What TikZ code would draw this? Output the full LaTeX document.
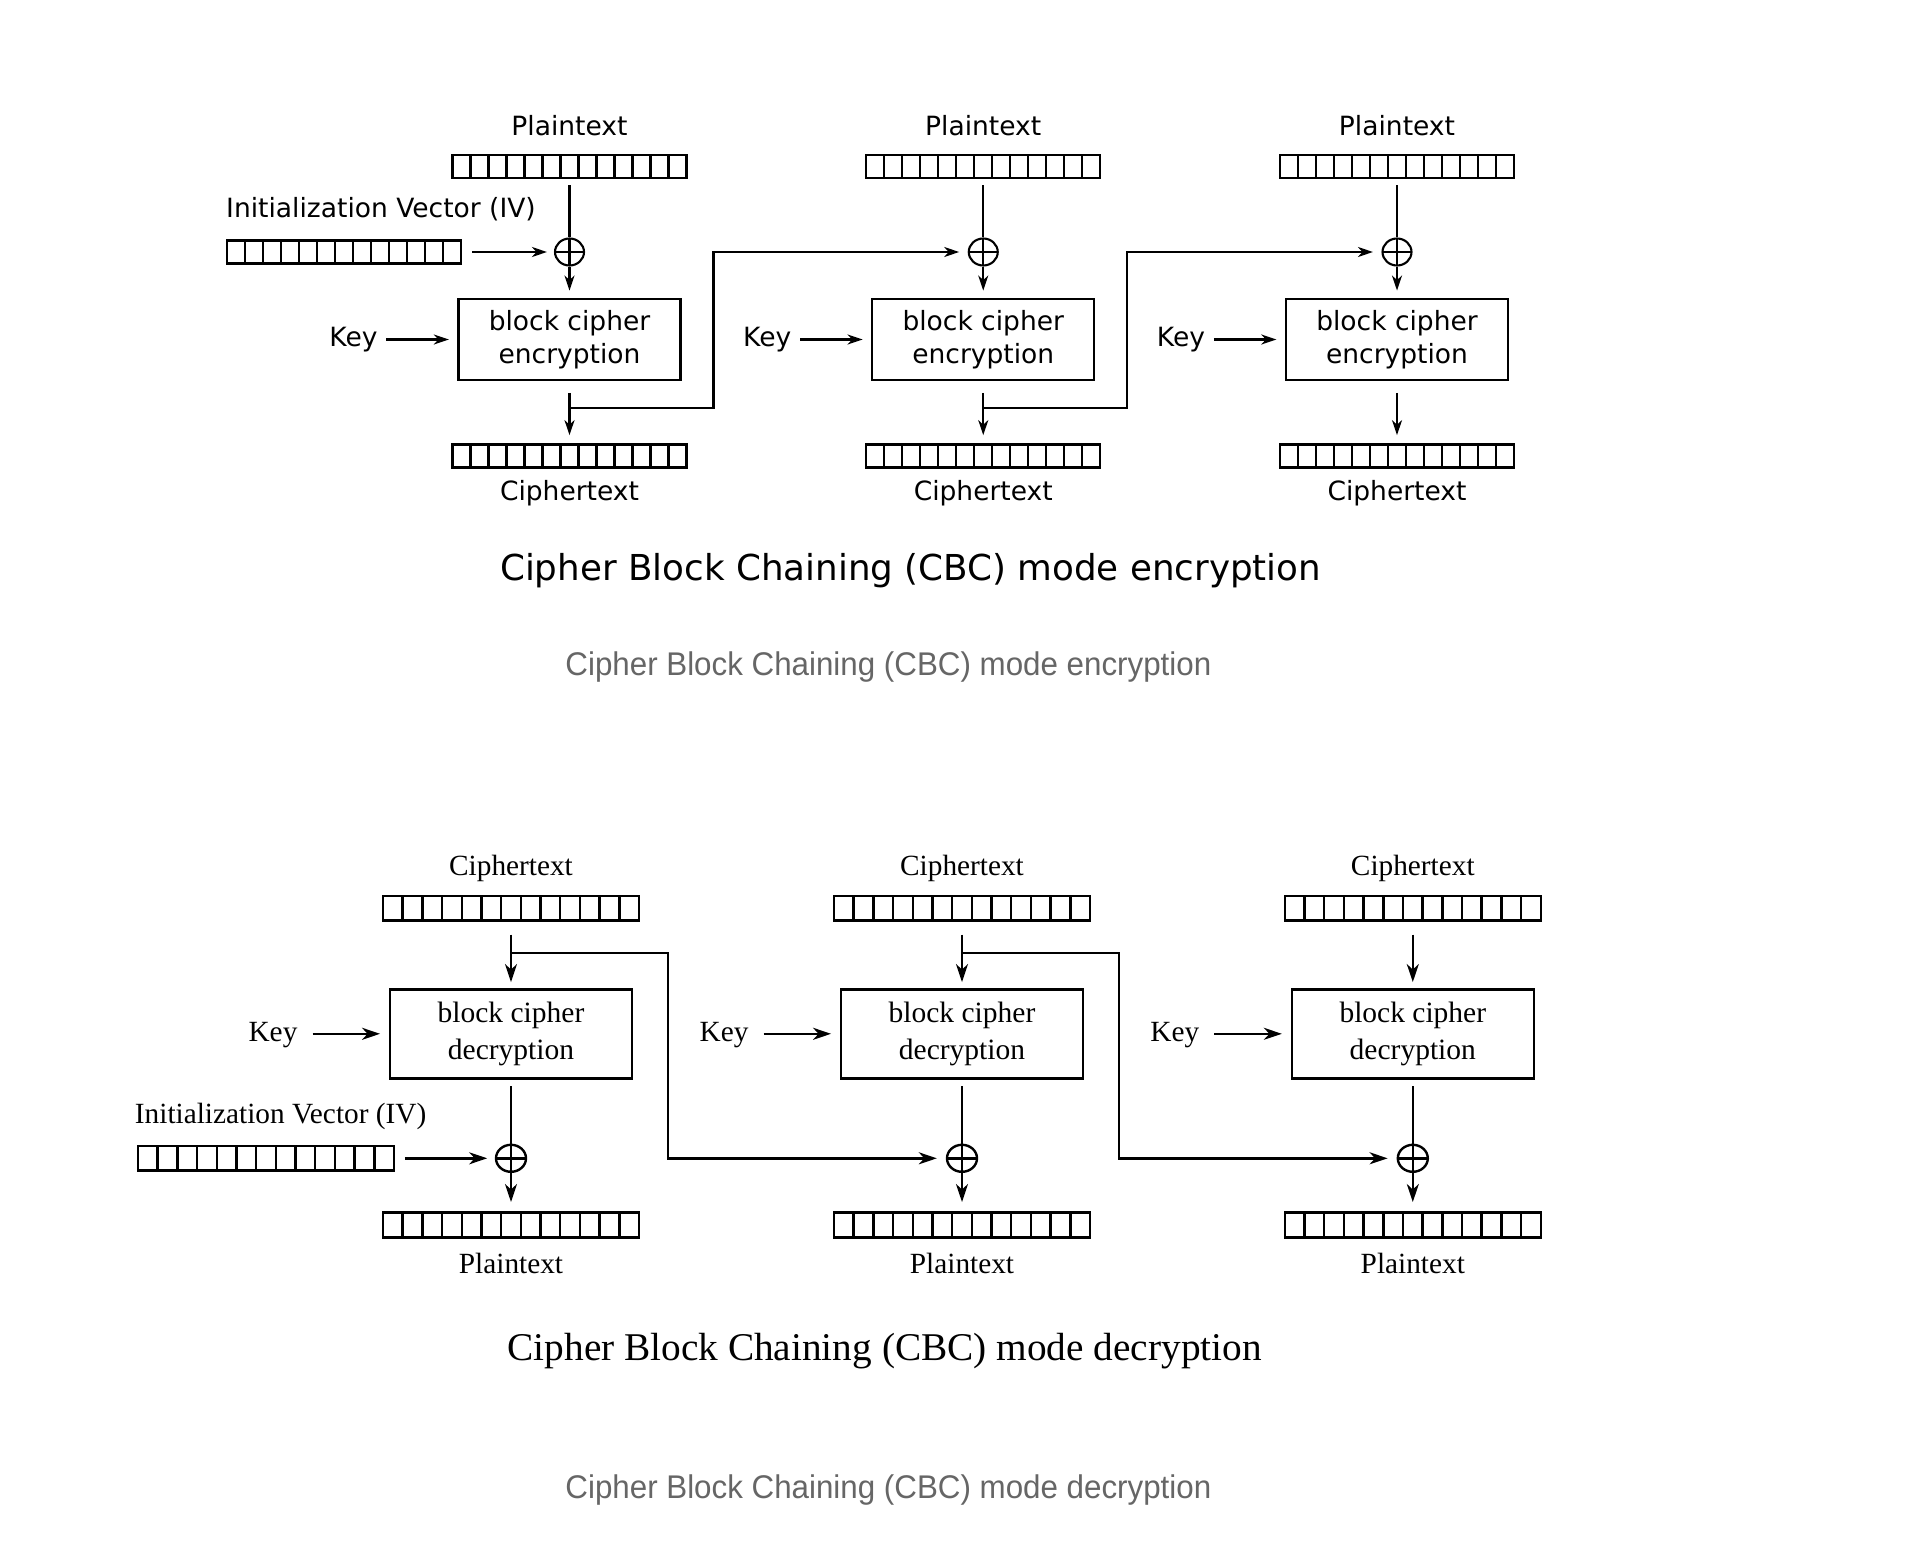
\documentclass[tikz,border=0pt]{standalone}
\usepackage{fontspec}
\usetikzlibrary{arrows.meta,shapes.geometric}
\newfontfamily\encfont{DejaVu Sans}
\newfontfamily\decfont{Liberation Serif}
\newfontfamily\capfont[FakeStretch=0.955]{Liberation Sans}
\definecolor{capgray}{RGB}{102,102,102}
\begin{document}
\begin{tikzpicture}[x=1pt,y=-1pt,
  encline/.style={line width=2.1pt},
  encarr/.style={line width=2.1pt,-{Stealth[length=15pt,width=10pt,inset=4.5pt]}},
  decline/.style={line width=2.4pt},
  decarr/.style={line width=2.4pt,-{Stealth[length=18pt,width=12pt,inset=5.5pt]}},
  encreg/.style={draw,line width=2.1pt,inner sep=0pt,minimum width=234pt,minimum height=23pt,
    path picture={\foreach \k in {1,...,12}{\draw[line width=2.1pt] ([xshift=\k*18pt]path picture bounding box.south west) -- ([xshift=\k*18pt]path picture bounding box.north west);}}},
  decreg/.style={draw,line width=2.5pt,inner sep=0pt,minimum width=256pt,minimum height=24.7pt,
    path picture={\foreach \k in {1,...,12}{\draw[line width=2.5pt] ([xshift=\k*19.6923pt]path picture bounding box.south west) -- ([xshift=\k*19.6923pt]path picture bounding box.north west);}}},
  encxor/.style={draw,ellipse,line width=2.1pt,inner sep=0pt,minimum width=29pt,minimum height=27pt,
    path picture={\draw[line width=2.1pt] (path picture bounding box.north) -- (path picture bounding box.south) (path picture bounding box.west) -- (path picture bounding box.east);}},
  decxor/.style={draw,ellipse,line width=2.4pt,inner sep=0pt,minimum width=30pt,minimum height=27pt,
    path picture={\draw[line width=2.4pt] (path picture bounding box.north) -- (path picture bounding box.south) (path picture bounding box.west) -- (path picture bounding box.east);}},
  encbox/.style={draw,line width=2.3pt,inner sep=0pt,minimum width=222pt,minimum height=81pt,align=center,
    font=\encfont\fontsize{26.5}{33.4}\selectfont},
  decbox/.style={draw,line width=2.5pt,inner sep=0pt,minimum width=242pt,minimum height=89pt,align=center,
    font=\decfont\fontsize{29.5}{36.7}\selectfont},
  enclabel/.style={inner sep=0pt,anchor=base,font=\encfont\fontsize{26.5}{32}\selectfont},
  declabel/.style={inner sep=0pt,anchor=base,font=\decfont\fontsize{29.3}{35}\selectfont}
]
\fill[white] (0,0) rectangle (1923,1544);
\useasboundingbox (0,0) rectangle (1923,1544);

% ---------------- Encryption ----------------
\foreach \i/\cx in {1/569.5,2/983.25,3/1397}{
  \node[enclabel] (eptl\i) at (\cx,136) {Plaintext};
  \node[encreg] (ept\i) at (\cx,166.5) {};
  \node[encxor] (ex\i) at (\cx,252) {};
  \node[encbox] (eb\i) at (\cx,339.5) {block cipher\\encryption};
  \node[encreg] (ect\i) at (\cx,456) {};
  \node[enclabel] (ectl\i) at (\cx,500.5) {Ciphertext};
  \node[enclabel] (ek\i) at (\cx-216,346.7) {Key};
  \coordinate (ej\i) at (\cx,408.3);
  \coordinate (ec\i) at (\cx+144,408.3);
  \draw[encline,shorten <=6.3pt] (ept\i.south) -- (ex\i.north);
  \draw[encarr,shorten >=7.3pt] (ex\i.south) -- (eb\i.north);
  \draw[encarr,shorten <=8.7pt,shorten >=8.5pt] (eb\i.west -| ek\i.east) -- (eb\i.west);
  \draw[encarr,shorten <=11.7pt,shorten >=8.3pt] (eb\i.south) -- (ect\i.north);
}
\foreach \i/\j in {1/2,2/3}{
  \draw[encarr,shorten >=8.5pt] (ej\i) -- (ec\i) |- (ex\j.west);
}
\node[enclabel] (eivl) at (381,218) {Initialization Vector (IV)};
\node[encreg] (eiv) at (344,252) {};
\draw[encarr,shorten <=10.4pt,shorten >=7pt] (eiv.east) -- (ex1.west);

\node[inner sep=0pt,anchor=base,font=\encfont\fontsize{35.7}{40}\selectfont] (etitle) at (910.7,580) {Cipher Block Chaining (CBC) mode encryption};
\node[inner sep=0pt,anchor=base,text=capgray,font=\capfont\fontsize{32.8}{38}\selectfont] (ecap) at (888.4,675) {Cipher Block Chaining (CBC) mode encryption};

% ---------------- Decryption ----------------
\foreach \i/\cx in {1/511,2/962,3/1412.8}{
  \node[declabel] (dctl\i) at (\cx,875) {Ciphertext};
  \node[decreg] (dct\i) at (\cx,908.3) {};
  \node[decbox] (db\i) at (\cx,1033.8) {block cipher\\decryption};
  \node[decxor] (dx\i) at (\cx,1158.3) {};
  \node[decreg] (dpt\i) at (\cx,1225) {};
  \node[declabel] (dptl\i) at (\cx,1273.3) {Plaintext};
  \node[declabel] (dk\i) at (\cx-238,1041.7) {Key};
  \coordinate (dj\i) at (\cx,952.7);
  \coordinate (dc\i) at (\cx+157,952.7);
  \draw[decarr,shorten <=12.6pt,shorten >=6pt] (dct\i.south) -- (db\i.north);
  \draw[decarr,shorten <=15pt,shorten >=8.7pt] (db\i.west -| dk\i.east) -- (db\i.west);
  \draw[decline,shorten <=6.7pt] (db\i.south) -- (dx\i.north);
  \draw[decarr,shorten >=9.4pt] (dx\i.south) -- (dpt\i.north);
}
\foreach \i/\j in {1/2,2/3}{
  \draw[decarr,shorten >=9pt] (dj\i) -- (dc\i) |- (dx\j.west);
}
\node[declabel] (divl) at (280.6,1123.3) {Initialization Vector (IV)};
\node[decreg] (div) at (266,1158.3) {};
\draw[decarr,shorten <=9.5pt,shorten >=7.6pt] (div.east) -- (dx1.west);

\node[inner sep=0pt,anchor=base,font=\decfont\fontsize{39.3}{44}\selectfont] (dtitle) at (884.7,1360) {Cipher Block Chaining (CBC) mode decryption};
\node[inner sep=0pt,anchor=base,text=capgray,font=\capfont\fontsize{32.8}{38}\selectfont] (dcap) at (888.4,1498) {Cipher Block Chaining (CBC) mode decryption};
\end{tikzpicture}
\end{document}
